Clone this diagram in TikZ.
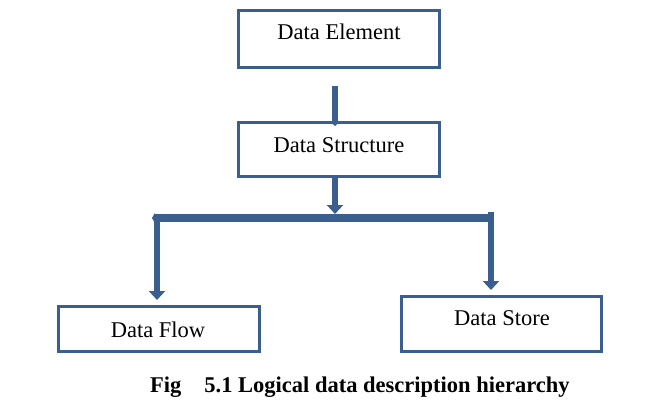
\documentclass[tikz,border=0pt]{standalone}
\usepackage{fontspec}
\setmainfont{Liberation Serif}
\usetikzlibrary{arrows.meta}
\definecolor{boxblue}{HTML}{3A5E8E}
\tikzset{
  box/.style={draw=boxblue, line width=3pt, minimum width=201pt, inner sep=0pt, fill=white},
  lbl/.style={anchor=base, inner sep=0pt, font=\fontsize{22.5}{27}\selectfont},
  arr/.style={draw=boxblue, line width=6.5pt, -{Triangle[width=16pt,length=9pt]}},
  smallarr/.style={draw=boxblue, line width=6.5pt, -{Triangle[width=9pt,length=4pt]}},
  barline/.style={draw=boxblue, line width=7.5pt, {Triangle[width=10pt,length=3pt]}-{Triangle[width=10pt,length=3pt]}},
}
\begin{document}
\begin{tikzpicture}[x=1pt,y=-1pt]
\useasboundingbox (0,0) rectangle (670,415);
% boxes
\node[box, minimum height=57pt] (de) at (339,39) {};
\node[box, minimum height=54pt] (ds) at (339,149.5) {};
\node[box, minimum height=45pt] (df) at (159,329) {};
\node[box, minimum width=200pt, minimum height=55pt] (dst) at (501.5,324) {};
% labels
\node[lbl] (tde) at (339,39) {Data Element};
\node[lbl] (tds) at (339,152) {Data Structure};
\node[lbl] (tdf) at (158,337) {Data Flow};
\node[lbl] (tdst) at (502,325) {Data Store};
% connector coordinates
\coordinate (a1) at (335,86);
\coordinate (a1e) at (335,126);
\coordinate (a2) at (335,214);
\coordinate (bl) at (152,218);
\coordinate (br) at (493,218);
\coordinate (jl) at (157,215);
\coordinate (jr) at (491,212);
\coordinate (tl) at (157,300);
\coordinate (tr) at (491,290);
% connectors
\draw[smallarr] (a1) -- (a1e);
\draw[arr] (a1 |- ds.south) -- (a2);
\draw[barline] (bl) -- (br);
\draw[arr] (jl) -- (tl);
\draw[arr] (jr) -- (tr);
% caption
\node[anchor=base west, inner sep=0pt, font=\fontsize{22.5}{27}\selectfont\bfseries] (cap) at (150,392) {Fig\hspace{23pt}5.1 Logical data description hierarchy};
\end{tikzpicture}
\end{document}
